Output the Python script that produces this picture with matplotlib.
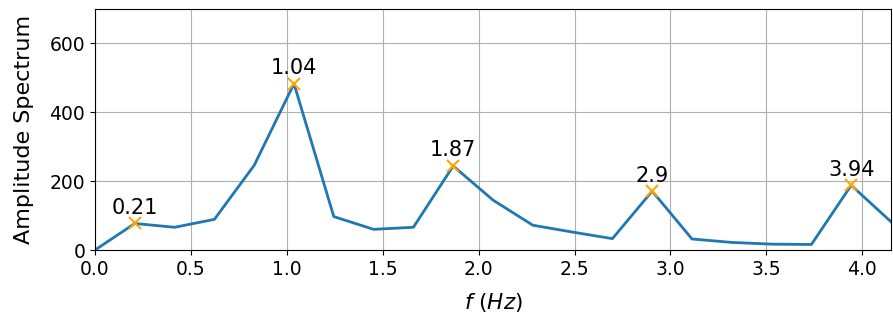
import matplotlib
matplotlib.use('Agg')
import matplotlib.pyplot as plt

# frequency bins (Hz) and amplitude spectrum
freq = [0.0, 0.2075, 0.415, 0.6225, 0.83, 1.0375, 1.245, 1.4525, 1.66, 1.8675,
        2.075, 2.2825, 2.49, 2.6975, 2.905, 3.1125, 3.32, 3.5275, 3.735, 3.9425,
        4.15]
amp = [0, 77, 66, 89, 246, 483, 97, 60, 66, 244,
       145, 72, 52, 33, 171, 32, 22, 17, 16, 188,
       82]

# peaks that get marked
peak_idx = [1, 5, 9, 14, 19]
peak_labels = ['0.21', '1.04', '1.87', '2.9', '3.94']

fig = plt.figure(figsize=(8.93, 3.22), dpi=100)
ax = fig.add_axes([95/893, 1 - 250/322, 796/893, 241/322])

ax.plot(freq, amp, color='tab:blue', lw=2)
px = [freq[i] for i in peak_idx]
py = [amp[i] for i in peak_idx]
ax.plot(px, py, 'x', color='orange', ms=9, mew=1.5)
for x, y, lab in zip(px, py, peak_labels):
    ax.annotate(lab, (x, y), xytext=(0, 4), textcoords='offset points',
                ha='center', va='bottom', fontsize=15)

ax.set_xlim(0, freq[-1])
ax.set_ylim(0, 700)
ax.set_yticks([0, 200, 400, 600])
ax.tick_params(labelsize=13.5)
ax.grid(True)
ax.set_xlabel(r'$f\ (Hz)$', fontsize=15.5, labelpad=9)
ax.set_ylabel('Amplitude Spectrum', fontsize=16, labelpad=11)

plt.savefig('out.png', dpi=100)
